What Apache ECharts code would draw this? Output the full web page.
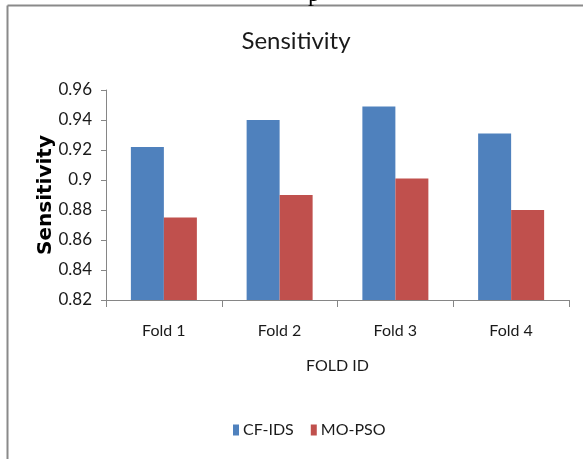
<!DOCTYPE html>
<html>
<head>
<meta charset="utf-8">
<script src="https://cdn.jsdelivr.net/npm/echarts@6/dist/echarts.min.js"></script>
<style>
html,body{margin:0;padding:0;background:#fff;}
#chart{width:583px;height:459px;}
</style>
</head>
<body>
<div id="chart"></div>
<script>
var categories = ['Fold 1', 'Fold 2', 'Fold 3', 'Fold 4'];
var cfIds = [0.922, 0.940, 0.949, 0.931];
var moPso = [0.875, 0.890, 0.901, 0.880];
var seriesNames = ['CF-IDS', 'MO-PSO'];
var titleText = 'Sensitivity';
var xAxisName = 'FOLD ID';
var yAxisName = 'Sensitivity';

var FONT = "Lato, 'Open Sans', sans-serif";
var chart = echarts.init(document.getElementById('chart'), null, {renderer: 'canvas'});
chart.setOption({
  animation: false,
  backgroundColor: '#ffffff',
  title: {
    text: titleText,
    left: 296,
    textAlign: 'center',
    top: 29,
    padding: 0,
    textStyle: {fontFamily: FONT, fontSize: 24, fontWeight: 'normal', color: '#1a1a1a'}
  },
  legend: {
    data: seriesNames,
    left: 228,
    top: 417,
    itemWidth: 6,
    itemHeight: 11,
    itemGap: 17,
    icon: 'rect',
    textStyle: {fontFamily: FONT, fontSize: 16, color: '#1a1a1a', padding: [0, 0, 0, -1]}
  },
  grid: {left: 106, right: 14, top: 90, height: 210},
  xAxis: {
    type: 'category',
    data: categories,
    name: xAxisName,
    nameLocation: 'middle',
    nameGap: 58,
    nameTextStyle: {fontFamily: FONT, fontSize: 16, color: '#1a1a1a'},
    axisLine: {lineStyle: {color: '#868686', width: 1}},
    axisTick: {show: true, length: 7, alignWithLabel: false, lineStyle: {color: '#868686'}},
    axisLabel: {margin: 23, fontFamily: FONT, fontSize: 16, color: '#1a1a1a'},
    splitLine: {show: false}
  },
  yAxis: {
    type: 'value',
    min: 0.82,
    max: 0.96,
    interval: 0.02,
    name: yAxisName,
    nameLocation: 'middle',
    nameRotate: 90,
    nameGap: 50,
    nameMoveOverlap: false,
    nameTextStyle: {fontFamily: "'DejaVu Sans', sans-serif", fontSize: 20, fontWeight: 'bold', color: '#000'},
    axisLine: {show: true, lineStyle: {color: '#868686', width: 1}},
    axisTick: {show: true, length: 5, inside: false, lineStyle: {color: '#868686'}},
    axisLabel: {margin: 14, fontFamily: FONT, fontSize: 17, color: '#1a1a1a'},
    splitLine: {show: false}
  },
  series: [
    {name: seriesNames[0], type: 'bar', data: cfIds, barWidth: 33, barGap: '0%', itemStyle: {color: '#4F81BD'}},
    {name: seriesNames[1], type: 'bar', data: moPso, barWidth: 33, barGap: '0%', itemStyle: {color: '#C0504D'}}
  ],
  graphic: [
    {type: 'line', shape: {x1: 7.5, y1: 5.5, x2: 583, y2: 5.5}, style: {stroke: '#8a8a8a', lineWidth: 2}},
    {type: 'line', shape: {x1: 7.5, y1: 5.5, x2: 7.5, y2: 459}, style: {stroke: '#8a8a8a', lineWidth: 2}},
    {type: 'text', left: 308, top: -17, style: {text: 'p', font: "24px 'Liberation Serif', serif", fill: '#000'}}
  ]
});
</script>
</body>
</html>
